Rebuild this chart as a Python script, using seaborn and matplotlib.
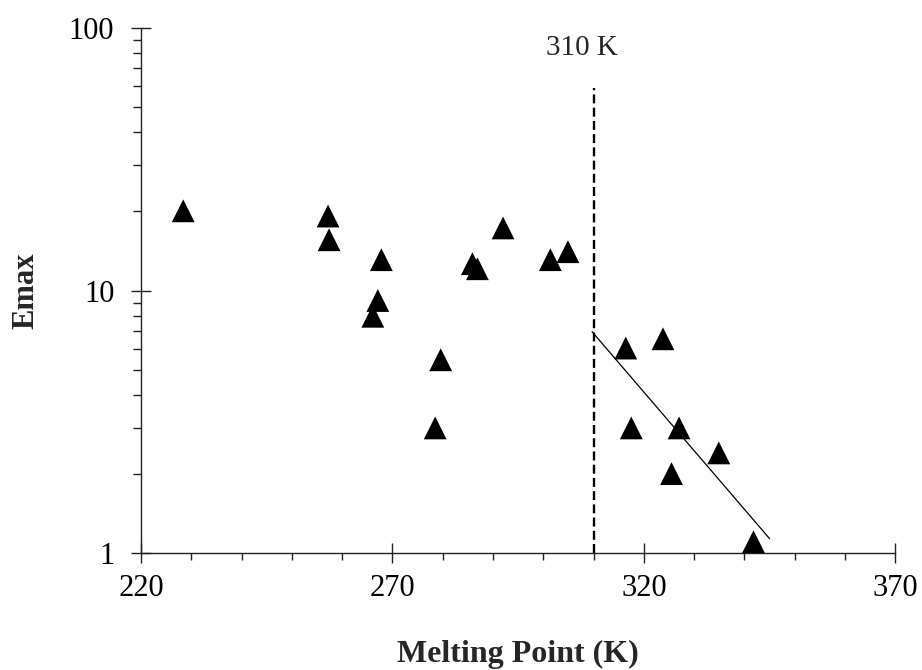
import matplotlib
matplotlib.use("Agg")
import matplotlib.pyplot as plt
import seaborn as sns
import pandas as pd
from matplotlib.ticker import MultipleLocator, LogLocator, FixedLocator, FixedFormatter, NullFormatter

# Data
melting_point = [228.4, 257.2, 257.4, 267.8, 267.1, 266.1, 279.6, 278.5, 285.9, 286.9,
                 292.0, 301.4, 304.9, 316.4, 317.5, 323.8, 327.0, 325.5, 334.9, 341.8]
emax = [20.1, 19.2, 15.6, 13.1, 9.16, 7.98, 5.45, 3.0, 12.65, 12.1,
        17.3, 13.1, 14.05, 6.04, 3.0, 6.55, 3.0, 2.01, 2.41, 1.107]
trend_x = [309.7, 345.0]
trend_y = [6.97, 1.137]
cutoff_x = 310
cutoff_top = 59
cutoff_label = "310 K"
x_ticks = [220, 270, 320, 370]
y_ticks = [1, 10, 100]
y_tick_labels = ["1", "10", "100"]

sns.set_style("ticks")
plt.rcParams['font.family'] = ['Liberation Serif', 'DejaVu Serif']

fig = plt.figure(figsize=(9.22, 6.70), dpi=100)
ax = fig.add_axes([141/922, 1 - 553.3/670, (895.3 - 141)/922, (553.3 - 27.7)/670])

df = pd.DataFrame({"mp": melting_point, "emax": emax})
sns.scatterplot(data=df, x="mp", y="emax", marker="^", s=270, color="black",
                edgecolor="none", ax=ax, zorder=3, clip_on=False)

tdf = pd.DataFrame({"x": trend_x, "y": trend_y})
sns.lineplot(data=tdf, x="x", y="y", color="black", linewidth=0.9, ax=ax)

ax.plot([cutoff_x, cutoff_x], [1, cutoff_top], color="black", linewidth=1.7,
        linestyle=(0, (3.8, 1.8)))
ax.text(307.6, 83.7, cutoff_label, ha="center", va="center", fontsize=21)

ax.set_yscale("log")
ax.set_xlim(220, 370)
ax.set_ylim(1, 100)

ax.xaxis.set_major_locator(FixedLocator(x_ticks))
ax.xaxis.set_minor_locator(MultipleLocator(10))
ax.yaxis.set_major_locator(FixedLocator(y_ticks))
ax.yaxis.set_major_formatter(FixedFormatter(y_tick_labels))
ax.yaxis.set_minor_locator(LogLocator(base=10, subs=[2, 3, 4, 5, 6, 7, 8, 9]))
ax.yaxis.set_minor_formatter(NullFormatter())

for side in ["top", "right"]:
    ax.spines[side].set_visible(False)
for side in ["left", "bottom"]:
    ax.spines[side].set_color("#222222")
    ax.spines[side].set_linewidth(1.0)

ax.tick_params(axis="both", which="major", direction="inout", length=14.4, width=1.0,
               color="#222222", labelsize=22, labelcolor="black")
ax.tick_params(axis="x", which="major", pad=8)
ax.tick_params(axis="y", which="major", pad=12)
ax.tick_params(axis="x", which="minor", direction="out", length=5, width=1.0, color="#222222")
ax.tick_params(axis="y", which="minor", direction="out", length=6, width=1.0, color="#222222")

ax.set_xlabel("Melting Point (K)", fontsize=23, fontweight="bold")
ax.set_ylabel("Emax", fontsize=22, fontweight="bold")
ax.xaxis.set_label_coords(0.5, -0.165)
ax.yaxis.set_label_coords(-0.133, 0.499)

fig.savefig("out.png", dpi=100)
